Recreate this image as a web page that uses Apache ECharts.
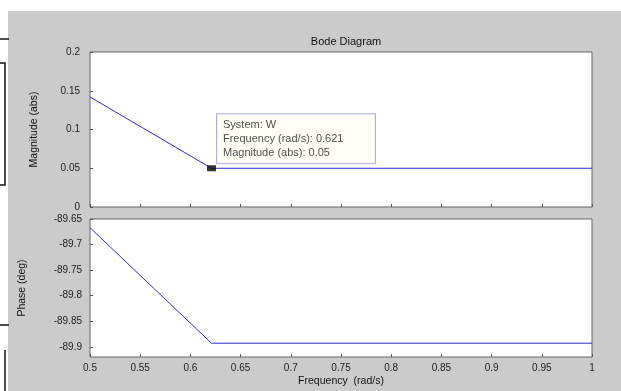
<!DOCTYPE html>
<html lang="en">
<head>
    <meta charset="UTF-8">
    <title>Bode Diagram</title>
    <script src="https://cdn.jsdelivr.net/npm/echarts@6/dist/echarts.min.js"></script>
    <style type="text/css">
        html, body { margin: 0; padding: 0; background: #fff; }
        #main { width: 621px; height: 391px; }
    </style>
</head>
<body>
    <div id="main"></div>
    <script>
        // frequency points (rad/s) and the response
        var freq = [0.5, 0.621, 1];
        var magnitude = [0.142, 0.05, 0.05];
        var phase = [-89.667, -89.893, -89.893];
        // data tip
        var tipFreq = 0.621;
        var tipMag = 0.05;
        // tick labels
        var freqTicks = [0.5, 0.55, 0.6, 0.65, 0.7, 0.75, 0.8, 0.85, 0.9, 0.95, 1];
        var magTicks = [0, 0.05, 0.1, 0.15, 0.2];
        var phaseTicks = [-89.65, -89.7, -89.75, -89.8, -89.85, -89.9];

        var myChart = echarts.init(document.getElementById('main'));
        var lineColor = '#2b2bd6';
        var txt = { color: '#222', fontSize: 10, fontFamily: 'Liberation Sans' };

        function pair(xs, ys) {
            return xs.map(function (x, i) { return [x, ys[i]]; });
        }
        function xAxisOf(idx, showLabel) {
            return {
                type: 'value', gridIndex: idx, min: freqTicks[0], max: freqTicks[freqTicks.length - 1], interval: 0.05,
                axisLine: { show: false },
                axisTick: { show: true, inside: true, length: 3, lineStyle: { color: '#555' } },
                splitLine: { show: false },
                axisLabel: {
                    show: showLabel, margin: 6, color: txt.color, fontSize: txt.fontSize,
                    fontFamily: txt.fontFamily,
                    formatter: function (v) { return String(+v.toFixed(2)); }
                }
            };
        }

        var option = {
            backgroundColor: '#fff',
            title: {
                text: 'Bode Diagram', left: 341, top: 31, textAlign: 'center',
                textStyle: { color: '#111', fontSize: 11, fontWeight: 'normal', fontFamily: 'Liberation Sans' }
            },
            graphic: [
                { type: 'rect', z: -10, shape: { x: 8, y: 11, width: 613, height: 380 },
                  style: { fill: '#cbcbcb' } },
                // screen-capture leftovers at the left edge
                { type: 'polyline', shape: { points: [[0, 39], [9, 39]] }, style: { stroke: '#111', lineWidth: 1.5 } },
                { type: 'polyline', shape: { points: [[0, 63], [5, 63], [5, 185], [0, 185]] }, style: { stroke: '#111', fill: null, lineWidth: 1.5 } },
                { type: 'polyline', shape: { points: [[0, 325], [9, 325]] }, style: { stroke: '#111', lineWidth: 1.5 } },
                { type: 'polyline', shape: { points: [[5, 350], [5, 391]] }, style: { stroke: '#111', lineWidth: 1.5 } }
            ],
            grid: [
                { left: 90, top: 52, width: 502, height: 155, show: true, backgroundColor: '#fff', borderColor: '#666', borderWidth: 1 },
                { left: 90, top: 219, width: 502, height: 138, show: true, backgroundColor: '#fff', borderColor: '#666', borderWidth: 1 }
            ],
            xAxis: [
                xAxisOf(0, false),
                Object.assign(xAxisOf(1, true), {
                    name: 'Frequency  (rad/s)', nameLocation: 'middle', nameGap: 19,
                    nameTextStyle: { color: '#111', fontSize: 10.5, fontFamily: 'Liberation Sans' }
                })
            ],
            yAxis: [
                {
                    type: 'value', gridIndex: 0, min: magTicks[0], max: magTicks[magTicks.length - 1], interval: 0.05,
                    name: 'Magnitude (abs)', nameLocation: 'middle', nameGap: 50,
                    nameTextStyle: { color: '#111', fontSize: 10.5, fontFamily: 'Liberation Sans' },
                    axisLine: { show: false },
                    axisTick: { show: true, inside: true, length: 3, lineStyle: { color: '#555' } },
                    splitLine: { show: false },
                    axisLabel: { color: txt.color, fontSize: txt.fontSize, fontFamily: txt.fontFamily, margin: 10,
                        formatter: function (v) { return String(+v.toFixed(2)); } }
                },
                {
                    type: 'value', gridIndex: 1, min: -89.92, max: -89.65,
                    name: 'Phase (deg)', nameLocation: 'middle', nameGap: 62,
                    nameTextStyle: { color: '#111', fontSize: 10.5, fontFamily: 'Liberation Sans' },
                    axisLine: { show: false },
                    axisTick: { show: true, inside: true, length: 3, customValues: phaseTicks, lineStyle: { color: '#555' } },
                    splitLine: { show: false },
                    axisLabel: { color: txt.color, fontSize: txt.fontSize, fontFamily: txt.fontFamily, margin: 8,
                        customValues: phaseTicks,
                        formatter: function (v) { return String(+v.toFixed(2)); } }
                }
            ],
            series: [
                {
                    type: 'line', xAxisIndex: 0, yAxisIndex: 0, data: pair(freq, magnitude),
                    symbol: 'none', lineStyle: { color: lineColor, width: 1 }, silent: true
                },
                {
                    type: 'line', xAxisIndex: 1, yAxisIndex: 1, data: pair(freq, phase),
                    symbol: 'none', lineStyle: { color: lineColor, width: 1 }, silent: true
                },
                {
                    type: 'scatter', xAxisIndex: 0, yAxisIndex: 0, data: [[tipFreq, tipMag]],
                    symbol: 'rect', symbolSize: [9, 6], itemStyle: { color: '#000' }, z: 5,
                    label: {
                        show: true, position: [10, -51],
                        formatter: 'System: W\nFrequency (rad/s): ' + tipFreq + '\nMagnitude (abs): ' + tipMag,
                        color: '#222', fontSize: 11, lineHeight: 14, fontFamily: 'Liberation Sans',
                        width: 140, overflow: 'none',
                        backgroundColor: '#fffff4', borderColor: '#9a9ae0', borderWidth: 1,
                        padding: [4, 12, 3, 6]
                    }
                }
            ]
        };
        myChart.setOption(option);
    </script>
</body>
</html>
